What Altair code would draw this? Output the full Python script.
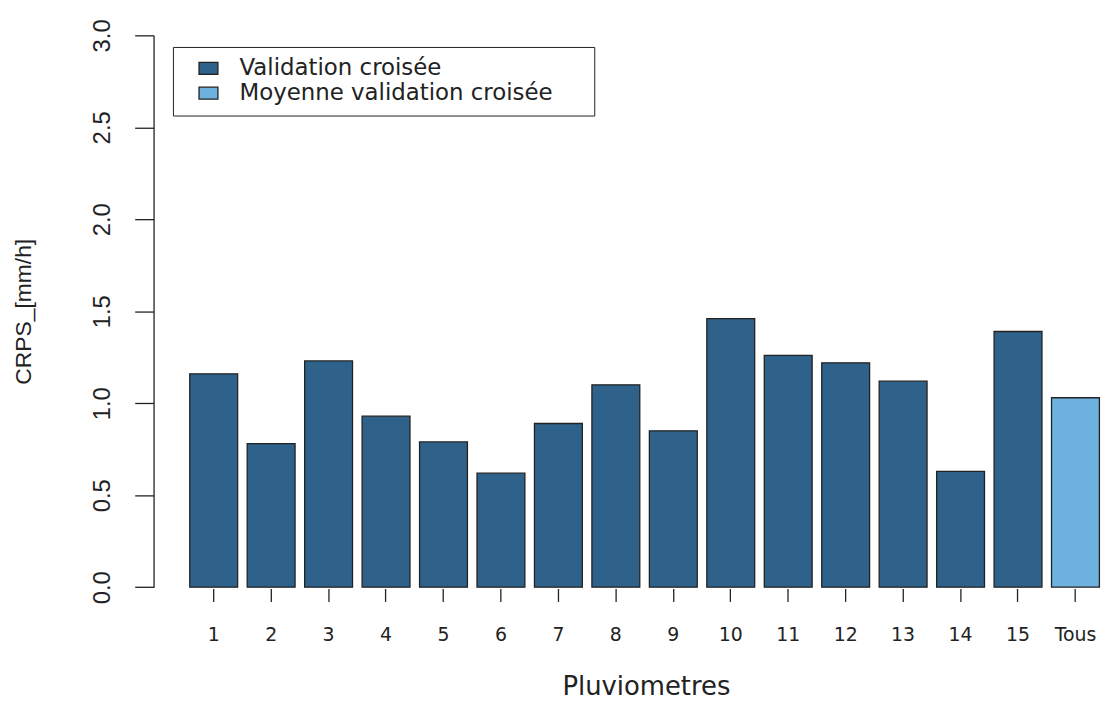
import altair as alt
import pandas as pd

stations = ["1", "2", "3", "4", "5", "6", "7", "8", "9", "10",
            "11", "12", "13", "14", "15", "Tous"]
crps = [1.16, 0.78, 1.23, 0.93, 0.79, 0.62, 0.89, 1.10, 0.85, 1.46,
        1.26, 1.22, 1.12, 0.63, 1.39, 1.03]
groups = ["Validation croisée"] * 15 + ["Moyenne validation croisée"]
legend_order = ["Validation croisée", "Moyenne validation croisée"]
colors = ["#2f628a", "#6eb2e0"]
y_ticks = [0.0, 0.5, 1.0, 1.5, 2.0, 2.5, 3.0]

df = pd.DataFrame({"station": stations, "crps": crps, "groupe": groups})

ink = "#222222"

bars = alt.Chart(df).mark_bar(stroke=ink, strokeWidth=1.3, opacity=1).encode(
    x=alt.X(
        "station:N",
        sort=stations,
        scale=alt.Scale(range=[36.4, 951.9], paddingInner=0.1667,
                        paddingOuter=0, round=False),
        axis=alt.Axis(
            title="Pluviometres",
            titleFont="DejaVu Sans",
            titleFontSize=26,
            titleFontWeight="normal",
            titleColor=ink,
            titleX=495.5,
            titleY=107,
            titleAlign="center",
            titleBaseline="alphabetic",
            labelAngle=0,
            labelFont="DejaVu Sans",
            labelFontSize=19,
            labelColor=ink,
            labelBaseline="alphabetic",
            labelPadding=39,
            tickSize=13,
            tickColor=ink,
            tickWidth=1.3,
            offset=1.3,
            domain=False,
            grid=False,
        ),
    ),
    y=alt.Y(
        "crps:Q",
        scale=alt.Scale(domain=[0, 3], nice=False, zero=True),
        axis=alt.Axis(
            title="CRPS_[mm/h]",
            titleFont="Liberation Sans",
            titleFontSize=23,
            titleFontWeight="normal",
            titleColor=ink,
            titleAngle=270,
            titleX=-124,
            titleY=277.7,
            titleAlign="center",
            titleBaseline="alphabetic",
            values=y_ticks,
            format=".1f",
            labelAngle=270,
            labelAlign="center",
            labelBaseline="alphabetic",
            labelFont="Liberation Sans",
            labelFontSize=24,
            labelColor=ink,
            labelPadding=25,
            tickSize=19,
            tickColor=ink,
            tickWidth=1.3,
            domainColor=ink,
            domainWidth=1.3,
            grid=False,
        ),
    ),
    color=alt.Color(
        "groupe:N",
        scale=alt.Scale(domain=legend_order, range=colors),
        title=None,
        legend=alt.Legend(
            orient="none",
            legendX=19.5,
            legendY=11.7,
            strokeColor=ink,
            fillColor="white",
            padding=10,
            symbolType="M0.5,-0.63H2.5V0.63H0.5Z M41,0",
            symbolSize=361,
            symbolStrokeColor=ink,
            symbolStrokeWidth=1.3,
            symbolOpacity=1,
            labelFont="DejaVu Sans",
            labelFontSize=23,
            labelColor=ink,
            labelOffset=34,
            labelLimit=600,
            rowPadding=1,
        ),
    ),
)

chart = bars.properties(
    width=953.5,
    height=555.4,
    autosize=alt.AutoSizeParams(type="none"),
    padding={"left": 146.5, "top": 25.3, "right": 0, "bottom": 113},
    background="white",
).configure_view(stroke=None)

chart.save("out.html", embed_options={"renderer": "svg", "actions": False})
